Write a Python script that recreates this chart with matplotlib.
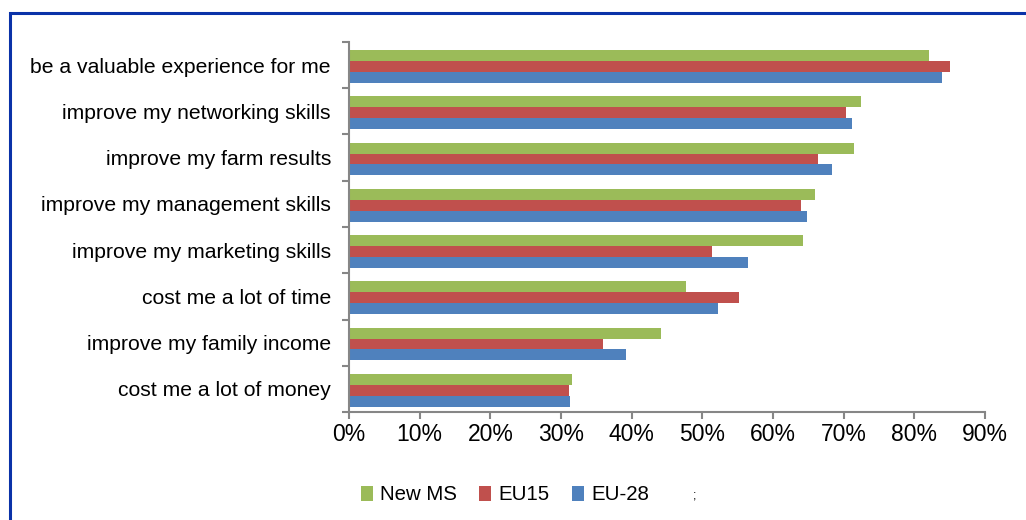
"""
Opinion de los agricultores: barras horizontales agrupadas (New MS, EU15, EU-28).
"""
import numpy as np
import matplotlib.pyplot as plt
from matplotlib.patches import Patch, Rectangle

plt.rcParams["font.family"] = ["Liberation Sans", "DejaVu Sans"]

categorias = ["be a valuable experience for me", "improve my networking skills",
              "improve my farm results", "improve my management skills",
              "improve my marketing skills", "cost me a lot of time",
              "improve my family income", "cost me a lot of money"]
new_ms = [82.1, 72.5, 71.4, 66.0, 64.3, 47.7, 44.1, 31.6]
eu15 = [85.1, 70.3, 66.3, 64.0, 51.4, 55.2, 36.0, 31.2]
eu28 = [83.9, 71.2, 68.3, 64.8, 56.5, 52.2, 39.2, 31.3]
series = ["New MS", "EU15", "EU-28"]
xticks = [0, 10, 20, 30, 40, 50, 60, 70, 80, 90]

COLORES = ["#9BBB59", "#C0504D", "#4F81BD"]
GRIS = "#868686"

fig = plt.figure(figsize=(10.26, 5.2), dpi=100)
ax = fig.add_axes([349 / 1026, 1 - 412 / 520, 636 / 1026, 370 / 520])

# marco azul del grafico
fig.patches.append(Rectangle((10 / 1026, -0.1), 1.2, 1 - 13 / 520 + 0.1,
                             transform=fig.transFigure, fill=False,
                             edgecolor="#0A32A8", linewidth=2.2))

y = np.arange(len(categorias))[::-1]
h = 0.235
off = -0.03
for k, (vals, c) in enumerate(zip([new_ms, eu15, eu28], COLORES)):
    ax.barh(y + off + (1 - k) * h, vals, height=h, color=c, linewidth=0)

ax.set_xlim(0, 90)
ax.set_ylim(-0.5, len(categorias) - 0.5)
ax.set_xticks(xticks)
ax.set_xticklabels([f"{v}%" for v in xticks], fontsize=16.5)

# ticks del eje y en los limites entre categorias, etiquetas centradas
ax.set_yticks(np.arange(-0.5, len(categorias)), labels=[""] * (len(categorias) + 1))
ax.set_yticks(y, labels=categorias, minor=True)
ax.tick_params(axis="y", which="major", length=5, width=1.5, color=GRIS, direction="out")
ax.tick_params(axis="y", which="minor", length=0, pad=13, labelsize=15.2)
ax.tick_params(axis="x", length=5, width=1.5, color=GRIS, pad=3)

for s in ["top", "right"]:
    ax.spines[s].set_visible(False)
for s in ["left", "bottom"]:
    ax.spines[s].set_color(GRIS)
    ax.spines[s].set_linewidth(1.5)

handles = [Patch(facecolor=c, edgecolor="none") for c in COLORES]
fig.legend(handles, series, loc="center", bbox_to_anchor=(505 / 1026, 1 - 495 / 520),
           ncol=3, frameon=False, fontsize=14.7, handlelength=0.6, handleheight=0.7,
           handletextpad=0.35, columnspacing=1.1)
fig.text(695 / 1026, 1 - 495 / 520, ";", fontsize=9, ha="center", va="center")

plt.savefig("out.png", dpi=100)
